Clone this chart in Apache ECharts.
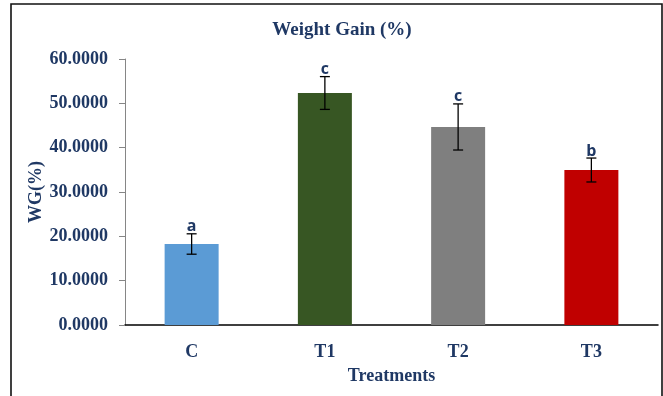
<!DOCTYPE html>
<html>
<head>
<meta charset="utf-8">
<script src="https://cdn.jsdelivr.net/npm/echarts@6/dist/echarts.min.js"></script>
<style>
  html, body { margin: 0; padding: 0; background: #fff; }
  #chart { width: 663px; height: 396px; }
</style>
</head>
<body>
<div id="chart"></div>
<script>
// Weight gain per treatment group, with standard error and significance letters
const categories = ['C', 'T1', 'T2', 'T3'];
const weightGain = [18.27, 52.33, 44.67, 34.96];
const errorSize = [2.3, 3.7, 5.2, 2.7];
const sigLetters = ['a', 'c', 'c', 'b'];
const barColors = ['#5B9BD5', '#375623', '#7F7F7F', '#C00000'];
const yTicks = [0, 10, 20, 30, 40, 50, 60];

const navy = '#1F3864';
const serif = '"Liberation Serif", "Times New Roman", serif';

const chart = echarts.init(document.getElementById('chart'));

const errorData = categories.map((c, i) => [i, weightGain[i] - errorSize[i], weightGain[i] + errorSize[i]]);

chart.setOption({
  animation: false,
  title: {
    text: 'Weight Gain (%)',
    left: 337, top: 16, textAlign: 'center',
    textStyle: { fontFamily: serif, fontWeight: 'bold', fontSize: 19, color: navy }
  },
  graphic: [{
    type: 'rect',
    shape: { x: 11, y: 4, width: 651, height: 400 },
    style: { fill: null, stroke: '#111', lineWidth: 1.6 },
    silent: true, z: 100
  }],
  grid: { left: 125, right: 5, top: 59, bottom: 71 },
  xAxis: {
    type: 'category',
    data: categories,
    name: 'Treatments',
    nameLocation: 'middle',
    nameGap: 42,
    nameMoveOverlap: false,
    nameTextStyle: { fontFamily: serif, fontWeight: 'bold', fontSize: 18, color: navy },
    axisLine: { lineStyle: { color: '#000', width: 1.5 } },
    axisTick: { show: false },
    axisLabel: { fontFamily: serif, fontWeight: 'bold', fontSize: 18, color: navy, margin: 18 }
  },
  yAxis: {
    type: 'value',
    min: yTicks[0], max: yTicks[yTicks.length - 1], interval: 10,
    name: 'WG(%)',
    nameLocation: 'middle',
    nameGap: 80,
    nameMoveOverlap: false,
    nameTextStyle: { fontFamily: serif, fontWeight: 'bold', fontSize: 18, color: navy },
    axisLine: { show: true, lineStyle: { color: '#868686', width: 1 } },
    axisTick: { show: true, length: 6, lineStyle: { color: '#868686' } },
    splitLine: { show: false },
    axisLabel: {
      fontFamily: serif, fontWeight: 'bold', fontSize: 18, color: navy, margin: 17,
      formatter: v => v.toFixed(4)
    }
  },
  series: [
    {
      type: 'bar',
      barWidth: 54,
      data: weightGain.map((v, i) => ({ value: v, itemStyle: { color: barColors[i] } }))
    },
    {
      type: 'custom',
      data: errorData,
      z: 10,
      renderItem: function (params, api) {
        const x = api.coord([api.value(0), 0])[0];
        const lo = api.coord([api.value(0), api.value(1)])[1];
        const hi = api.coord([api.value(0), api.value(2)])[1];
        const hw = 5;
        const st = { stroke: '#000', lineWidth: 1.3 };
        return {
          type: 'group',
          children: [
            { type: 'line', shape: { x1: x, y1: lo, x2: x, y2: hi }, style: st },
            { type: 'line', shape: { x1: x - hw, y1: lo, x2: x + hw, y2: lo }, style: st },
            { type: 'line', shape: { x1: x - hw, y1: hi, x2: x + hw, y2: hi }, style: st },
            {
              type: 'text',
              style: {
                text: sigLetters[params.dataIndex],
                x: x, y: hi - 7,
                align: 'center', verticalAlign: 'middle',
                fill: navy,
                font: 'bold 16px "Open Sans", "Liberation Sans", sans-serif'
              }
            }
          ]
        };
      }
    }
  ]
});
</script>
</body>
</html>
